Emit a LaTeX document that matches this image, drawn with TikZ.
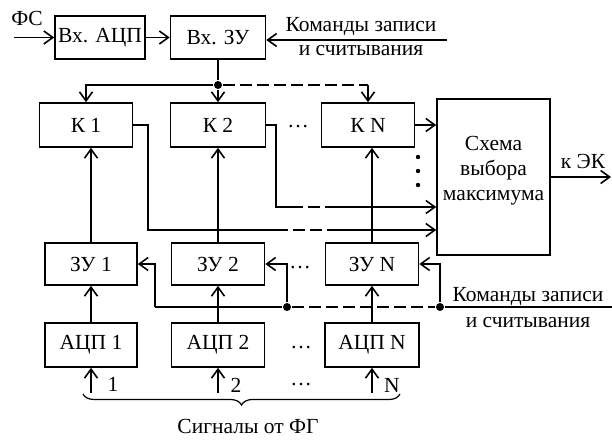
\documentclass[tikz,border=0pt]{standalone}
\usepackage{fontspec}
\setmainfont{Liberation Serif}
\usetikzlibrary{arrows.meta,calc,decorations.pathreplacing}

\begin{document}
\begin{tikzpicture}[x=1pt,y=-1pt,line width=1.6pt,
  >={Straight Barb[length=9pt,width=13pt]},
  font=\fontsize{21.5}{25}\selectfont,
  blk/.style={draw,inner sep=0pt,minimum height=43},
  dot/.style={circle,fill,inner sep=0pt,minimum size=8},
  dsh/.style={dash pattern=on 12pt off 5pt}]
  \useasboundingbox (0,0) rectangle (612,439);
  % input stage
  \node[blk,minimum width=90] (vadc) at (100,37.5) {Вх. АЦП};
  \node[blk,minimum width=95] (vzu) at (218,37.5) {Вх. ЗУ};
  \node[anchor=base] (fs) at (27,25) {ФС};
  \coordinate (fsin) at (14,37.5);
  \draw[->] (fsin) -- (vadc);
  \draw[->] (vadc) -- (vzu);
  \coordinate (cmdin) at (447,40);
  \draw[->] (cmdin) -- (cmdin -| vzu.east);
  \node[anchor=base] (cmda) at (361,31) {Команды записи};
  \node[anchor=base] (cmdb) at (361,55) {и считывания};

  % channels
  \node[blk,minimum width=93,minimum height=44] (k1) at (86,125) {К 1};
  \node[blk,minimum width=95,minimum height=44] (k2) at (218,125) {К 2};
  \node[blk,minimum width=93,minimum height=44] (kn) at (368,125) {К N};
  \node[blk,minimum width=92,minimum height=42] (zu1) at (91,264) {ЗУ 1};
  \node[blk,minimum width=93,minimum height=42] (zu2) at (218,264) {ЗУ 2};
  \node[blk,minimum width=93,minimum height=42] (zun) at (372,264) {ЗУ N};
  \node[blk,minimum width=92,minimum height=44] (adc1) at (91,345) {АЦП 1};
  \node[blk,minimum width=93,minimum height=44] (adc2) at (218,345) {АЦП 2};
  \node[blk,minimum width=94,minimum height=44] (adcn) at (372,345) {АЦП N};
  \node[blk,minimum width=113,minimum height=156] (sch) at (493.5,177) {};
  \node[align=center] (schtxt) at (493.5,171) {Схема\\выбора\\максимума};

  % bus to K
  \node[dot] (bd) at (218,85) {};
  \coordinate (bn) at (kn.north |- bd);
  \draw (vzu) -- (bd);
  \draw[->] (bd) -| (k1.north);
  \draw[->] (bd) -- (k2.north);
  \draw[dsh] (bd) -- (bn);
  \draw[->] (bn) -- (kn.north);

  % K outputs
  \coordinate (k1a) at (148,230);
  \coordinate (k1b) at (276,230);
  \coordinate (k1c) at (328,230);
  \coordinate (k2a) at (276,207);
  \coordinate (k2b) at (291,207);
  \coordinate (k2c) at (328,207);
  \draw (k1.east) -| (k1a) -- (k1b);
  \draw[dsh] (k1b) -- (k1c);
  \draw[->] (k1c) -- (k1c -| sch.west);
  \draw (k2.east) -| (k2a) -- (k2b);
  \draw[dsh] (k2b) -- (k2c);
  \draw[->] (k2c) -- (k2c -| sch.west);
  \draw[->] (kn.east) -- (kn.east -| sch.west);
  \fill (418,157) circle (2.2pt) (418,171) circle (2.2pt) (418,185) circle (2.2pt);

  % output
  \coordinate (ekout) at (611,177);
  \draw[->] (sch.east) -- (ekout);
  \node[anchor=base] (ek) at (583,168) {к ЭК};

  % memory to K, ADC to memory
  \draw[->] (zu1.north) -- (zu1.north |- k1.south);
  \draw[->] (zu2.north) -- (zu2.north |- k2.south);
  \draw[->] (zun.north) -- (zun.north |- kn.south);
  \draw[->] (adc1) -- (zu1);
  \draw[->] (adc2) -- (zu2);
  \draw[->] (adcn) -- (zun);

  % write/read commands
  \coordinate (cz) at (155,307);
  \node[dot] (d2) at (287,307) {};
  \node[dot] (dn) at (440,307) {};
  \coordinate (cmdout) at (612,307);
  \draw[->] (cz) |- (zu1.east);
  \draw (cz) -- (d2);
  \draw[->] (d2) |- (zu2.east);
  \draw[dsh] (d2) -- (dn);
  \draw[->] (dn) |- (zun.east);
  \draw (dn) -- (cmdout);
  \node[anchor=base] (cmdc) at (528,301) {Команды записи};
  \node[anchor=base] (cmdd) at (528,327) {и считывания};

  % inputs from FG
  \coordinate (in1) at ($(adc1.south)+(0,25)$);
  \coordinate (in2) at ($(adc2.south)+(0,25)$);
  \coordinate (inn) at ($(adcn.south)+(0,25)$);
  \draw[->] (in1) -- (adc1.south);
  \draw[->] (in2) -- (adc2.south);
  \draw[->] (inn) -- (adcn.south);
  \node[anchor=base] (n1) at (113,391) {1};
  \node[anchor=base] (n2) at (236,392) {2};
  \node[anchor=base] (nn) at (392,392) {N};
  \coordinate (br1) at (83,394);
  \coordinate (br2) at (400,394);
  \draw[line width=1.2pt,decorate,decoration={brace,mirror,amplitude=11pt}] (br1) -- (br2);
  \node[anchor=base] (fg) at (248,433) {Сигналы от ФГ};

  % ellipses
  \node (e1) at (298,127) {\ldots};
  \node (e2) at (300,268) {\ldots};
  \node (e3) at (301,348) {\ldots};
  \node (e4) at (301,385) {\ldots};
\end{tikzpicture}
\end{document}
